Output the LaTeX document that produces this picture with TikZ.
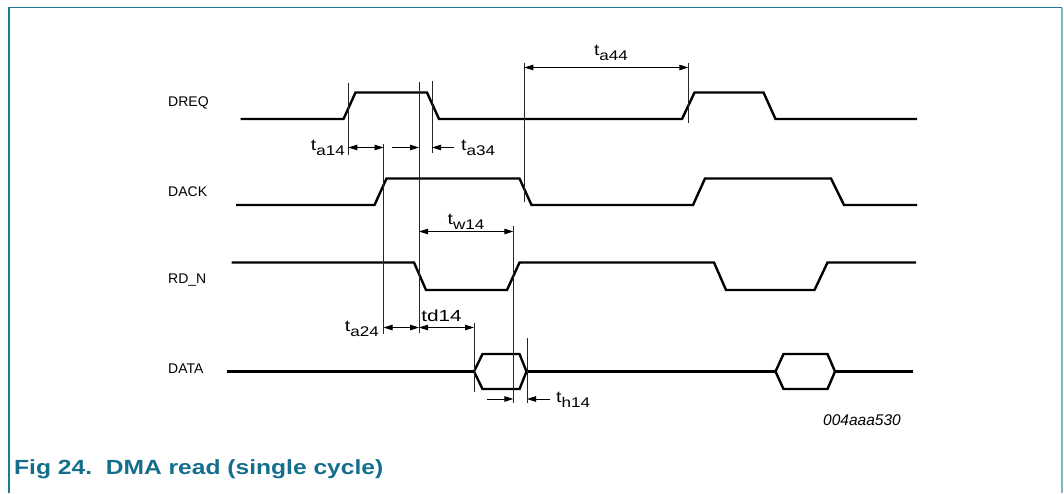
\documentclass[tikz,border=0pt]{standalone}
\usepackage{fontspec}
\setmainfont{Liberation Sans}
\usetikzlibrary{arrows.meta}
\definecolor{teal1}{RGB}{30,120,150}
\definecolor{teal2}{RGB}{120,185,200}
\definecolor{capc}{RGB}{20,110,140}
\newcommand{\tlab}[1]{\scalebox{1.22}[1]{\fontsize{16}{16}\selectfont t\raisebox{-4.5pt}{\fontsize{14}{14}\selectfont #1}}}
\tikzset{
  sig/.style={line width=2.4pt, line join=miter, black},
  tline/.style={line width=0.9pt, black!85},
  dim/.style={line width=0.9pt, black, {Triangle[length=9pt,width=5.5pt]}-{Triangle[length=9pt,width=5.5pt]}},
  dimr/.style={line width=0.9pt, black, -{Triangle[length=9pt,width=5.5pt]}},
  sname/.style={font=\fontsize{14}{14}\selectfont, inner sep=0pt, anchor=west},
  tl/.style={inner sep=0pt},
}
\begin{document}
\begin{tikzpicture}[x=1pt,y=-1pt]
\useasboundingbox (0,0) rectangle (1064,493);
% frame
\draw[teal1, line width=1.3pt] (9,493) -- (9,7.5) -- (1062,7.5);
\draw[teal2, line width=1.3pt] (1062,7.5) -- (1062,493);
% signal names
\node[sname] (ndreq) at (168,103) {DREQ};
\node[sname] (ndack) at (168,192) {DACK};
\node[sname] (nrdn) at (168,280) {RD\_N};
\node[sname] (ndata) at (168,369) {DATA};
% DREQ
\draw[sig] (240.5,119) -- (343.5,119) -- (355.5,92.5) -- (427,92.5) -- (439,119) -- (682,119) -- (694.5,92.5) -- (763.5,92.5) -- (775.5,119) -- (917,119);
% DACK
\draw[sig] (236,205) -- (374.5,205) -- (386.5,178.5) -- (519.5,178.5) -- (531.5,205) -- (693,205) -- (705,178.5) -- (831,178.5) -- (844,205) -- (917,205);
% RD_N
\draw[sig] (231.5,262.5) -- (414,262.5) -- (426,290) -- (507,290) -- (519.5,262.5) -- (714,262.5) -- (726,290) -- (814.5,290) -- (827.5,262.5) -- (916,262.5);
% DATA
\draw[sig] (227,371.5) -- (474,371.5);
\draw[sig] (474,371.5) -- (482.5,354) -- (519.5,354) -- (526.5,371.5) -- (519.5,389) -- (482.5,389) -- cycle;
\draw[sig] (526.5,371.5) -- (775.5,371.5);
\draw[sig] (775.5,371.5) -- (783.5,354) -- (827.5,354) -- (835,371.5) -- (827.5,389) -- (783.5,389) -- cycle;
\draw[sig] (835,371.5) -- (913,371.5);
% timing lines
\coordinate (l1t) at (348.3,83);  \coordinate (l1b) at (348.3,155);
\coordinate (l2t) at (383.5,144); \coordinate (l2b) at (383.5,334);
\coordinate (l3t) at (419,82);    \coordinate (l3b) at (419,333);
\coordinate (l4t) at (432,81);    \coordinate (l4b) at (432,153);
\coordinate (l5t) at (524.3,63);  \coordinate (l5b) at (524.3,202);
\coordinate (l6t) at (688.3,63);  \coordinate (l6b) at (688.3,123);
\coordinate (l7t) at (513.3,226); \coordinate (l7b) at (513.3,403);
\coordinate (l8t) at (474,323);   \coordinate (l8b) at (474,392);
\coordinate (l9t) at (527,338);   \coordinate (l9b) at (527,403);
\foreach \n in {1,...,9} {\draw[tline] (l\n t) -- (l\n b);}
% dimension arrows
\draw[dim] (348.3,147.5) -- (383.5,147.5);
\coordinate (a34r) at (391.5,147.5);
\draw[dimr] (a34r) -- (419,147.5);
\coordinate (a34l) at (453.5,147.5);
\draw[dimr] (a34l) -- (432,147.5);
\draw[dim] (524.3,67.5) -- (688.3,67.5);
\draw[dim] (419,231.5) -- (513.3,231.5);
\draw[dim] (383.5,327.5) -- (419,327.5);
\draw[dim] (419,327.5) -- (474,327.5);
\coordinate (h14r) at (486.5,399);
\draw[dimr] (h14r) -- (513.3,399);
\coordinate (h14l) at (550,399);
\draw[dimr] (h14l) -- (527,399);
% timing labels
\node[tl, anchor=east] (ta14) at (345,148) {\tlab{a14}};
\node[tl, anchor=west] (ta34) at (461,148) {\tlab{a34}};
\node[tl] (ta44) at (611,53) {\tlab{a44}};
\node[tl] (tw14) at (466,222) {\tlab{w14}};
\node[tl] (td14) at (441.5,316) {\scalebox{1.3}[1]{\fontsize{16}{16}\selectfont td14}};
\node[tl, anchor=east] (ta24) at (379,329) {\tlab{a24}};
\node[tl, anchor=west] (th14) at (556,400) {\tlab{h14}};
% figure id
\node[font=\fontsize{15.5}{15.5}\selectfont\itshape, inner sep=0pt, anchor=east] (fid) at (901,420) {004aaa530};
% caption
\node[inner sep=0pt, anchor=west, text=capc] (cap) at (14,469) {\scalebox{1.2}[1]{\fontsize{20.5}{20.5}\selectfont\bfseries Fig 24.\ \ DMA read (single cycle)}};
\end{tikzpicture}
\end{document}
